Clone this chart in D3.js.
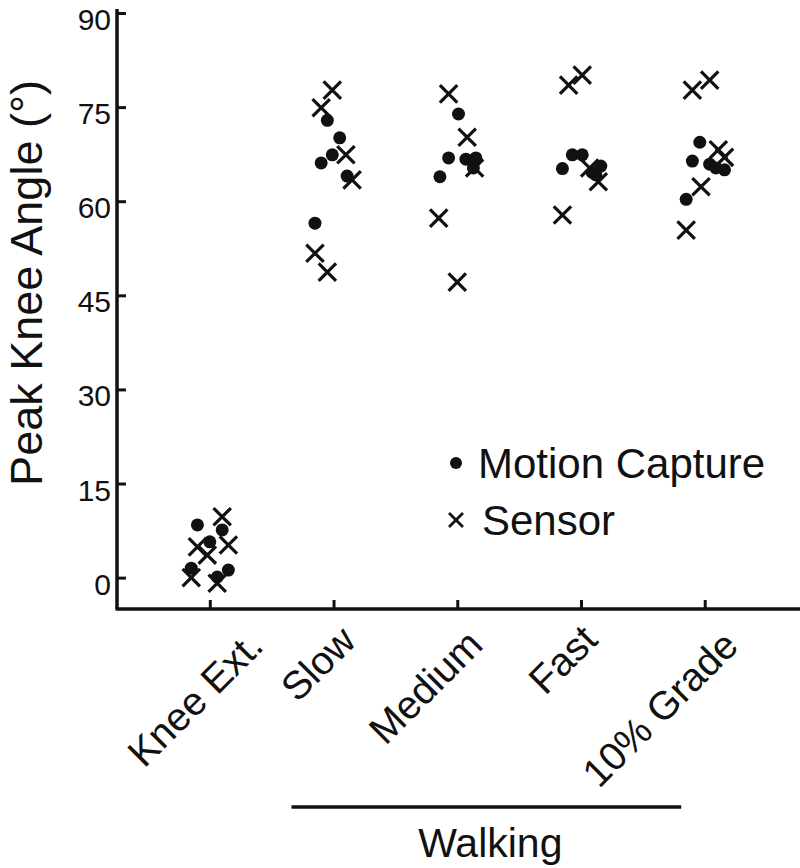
<!DOCTYPE html>
<html>
<head>
<meta charset="utf-8">
<script src="https://cdn.jsdelivr.net/npm/d3@7"></script>
<style>
  html, body { margin: 0; padding: 0; background: #fff; }
  svg { display: block; }
  text { font-family: "Liberation Sans", Arial, sans-serif; fill: #111; }
</style>
</head>
<body>
<svg id="chart" width="800" height="868"></svg>
<script>
// ---- data ----
const categories = ["Knee Ext.", "Slow", "Medium", "Fast", "10% Grade"];
const yTicks = [0, 15, 30, 45, 60, 75, 90];
const groupLabel = "Walking";
const yTitle = "Peak Knee Angle (°)";
const seriesNames = ["Motion Capture", "Sensor"];

// Motion capture: values (deg) and horizontal jitter (category units)
const mocapValues = [
  [8.4, 7.6, 5.7, 1.5, 1.2, 0.1],
  [72.9, 70.1, 67.4, 66.1, 64.0, 56.5],
  [73.9, 66.9, 66.7, 66.9, 63.9, 65.3],
  [67.4, 67.4, 65.2, 64.6, 65.6, 64.2],
  [69.4, 66.4, 65.9, 65.3, 65.0, 60.3]
];
const mocapJitter = [
  [-0.10, 0.10, 0.00, -0.15, 0.15, 0.06],
  [-0.05, 0.05, -0.01, -0.10, 0.11, -0.15],
  [0.01, -0.07, 0.07, 0.15, -0.14, 0.13],
  [-0.07, 0.01, -0.15, 0.09, 0.16, 0.12],
  [-0.04, -0.10, 0.04, 0.09, 0.16, -0.15]
];
// Sensor
const sensorValues = [
  [9.7, 4.9, 5.2, 3.6, 0.0, -0.9],
  [77.7, 74.9, 67.4, 63.4, 51.7, 48.7],
  [77.1, 70.2, 65.3, 57.3, 47.1],
  [80.1, 78.5, 63.1, 57.8, 65.3],
  [79.3, 77.7, 68.2, 67.0, 62.3, 55.4]
];
const sensorJitter = [
  [0.10, -0.10, 0.15, -0.02, -0.15, 0.06],
  [-0.01, -0.10, 0.10, 0.15, -0.15, -0.05],
  [-0.07, 0.08, 0.14, -0.15, 0.00],
  [0.01, -0.10, 0.14, -0.15, 0.07],
  [0.04, -0.10, 0.11, 0.16, -0.03, -0.15]
];

// ---- layout (pixel offsets of rotated category labels' end points) ----
const labelEnd = [[55, 39], [24, 34], [27, 38], [18, 33], [35, 39]];

const ink = "#111";
const svg = d3.select("#chart");
const x = d3.scaleLinear().domain([-0.75, 4.77]).range([117, 800]);
const y = d3.scaleLinear().domain([-5, 90]).range([609, 13]);

// points
const mocap = [], sensor = [];
categories.forEach((c, i) => {
  mocapValues[i].forEach((v, j) => mocap.push({ i, v, dx: mocapJitter[i][j] }));
  sensorValues[i].forEach((v, j) => sensor.push({ i, v, dx: sensorJitter[i][j] }));
});

const xMark = (s) => `M${-s},${-s}L${s},${s}M${-s},${s}L${s},${-s}`;

svg.append("g").selectAll("circle").data(mocap).join("circle")
  .attr("cx", d => x(d.i + d.dx)).attr("cy", d => y(d.v))
  .attr("r", 6.5).attr("fill", ink);

svg.append("g").selectAll("path").data(sensor).join("path")
  .attr("transform", d => `translate(${x(d.i + d.dx)},${y(d.v)})`)
  .attr("d", xMark(8.7)).attr("stroke", ink).attr("stroke-width", 3.2)
  .attr("fill", "none");

// y axis
const yAxis = svg.append("g").attr("transform", `translate(${x.range()[0]},0)`)
  .call(d3.axisLeft(y).tickValues(yTicks).tickSize(-9).tickPadding(6));
yAxis.select(".domain").attr("d", `M0,${y(90) - 4}V${y.range()[0]}`)
  .attr("stroke", ink).attr("stroke-width", 3.5);
yAxis.selectAll(".tick line").attr("stroke", ink).attr("stroke-width", 3);
yAxis.selectAll(".tick text").attr("font-size", 30).attr("fill", ink)
  .attr("font-family", "Liberation Sans, Arial, sans-serif")
  .attr("dy", "0.55em");

// x axis
const xAxis = svg.append("g").attr("transform", `translate(0,${y.range()[0]})`)
  .call(d3.axisBottom(x).tickValues(d3.range(categories.length)).tickSize(-9)
    .tickFormat(i => categories[i]));
xAxis.select(".domain").attr("d", `M${x.range()[0] - 1.5},0H${x.range()[1]}`)
  .attr("stroke", ink).attr("stroke-width", 3.5);
xAxis.selectAll(".tick line").attr("stroke", ink).attr("stroke-width", 3);
xAxis.selectAll(".tick text")
  .attr("font-size", 39.5).attr("fill", ink)
  .attr("font-family", "Liberation Sans, Arial, sans-serif")
  .attr("text-anchor", "end")
  .attr("dy", 0).attr("y", 0)
  .attr("transform", i => `translate(${labelEnd[i][0]},${labelEnd[i][1]}) rotate(-45)`);

// y title
svg.append("text")
  .attr("transform", `translate(42,283) rotate(-90)`)
  .attr("text-anchor", "middle").attr("font-size", 45).text(yTitle);

// walking group bracket
svg.append("line")
  .attr("x1", x(0.66)).attr("x2", x(3.81))
  .attr("y1", 807).attr("y2", 807)
  .attr("stroke", ink).attr("stroke-width", 3.5);
svg.append("text").attr("x", (x(0.66) + x(3.81)) / 2 + 4).attr("y", 857)
  .attr("text-anchor", "middle").attr("font-size", 41).text(groupLabel);

// legend
const lg = svg.append("g").attr("transform", "translate(456,0)");
lg.append("circle").attr("cx", 0).attr("cy", 463).attr("r", 6).attr("fill", ink);
lg.append("text").attr("x", 22).attr("y", 478).attr("font-size", 42).text(seriesNames[0]);
lg.append("path").attr("transform", "translate(0,520)").attr("d", xMark(7))
  .attr("stroke", ink).attr("stroke-width", 2.8).attr("fill", "none");
lg.append("text").attr("x", 26).attr("y", 535).attr("font-size", 42).text(seriesNames[1]);
</script>
</body>
</html>
